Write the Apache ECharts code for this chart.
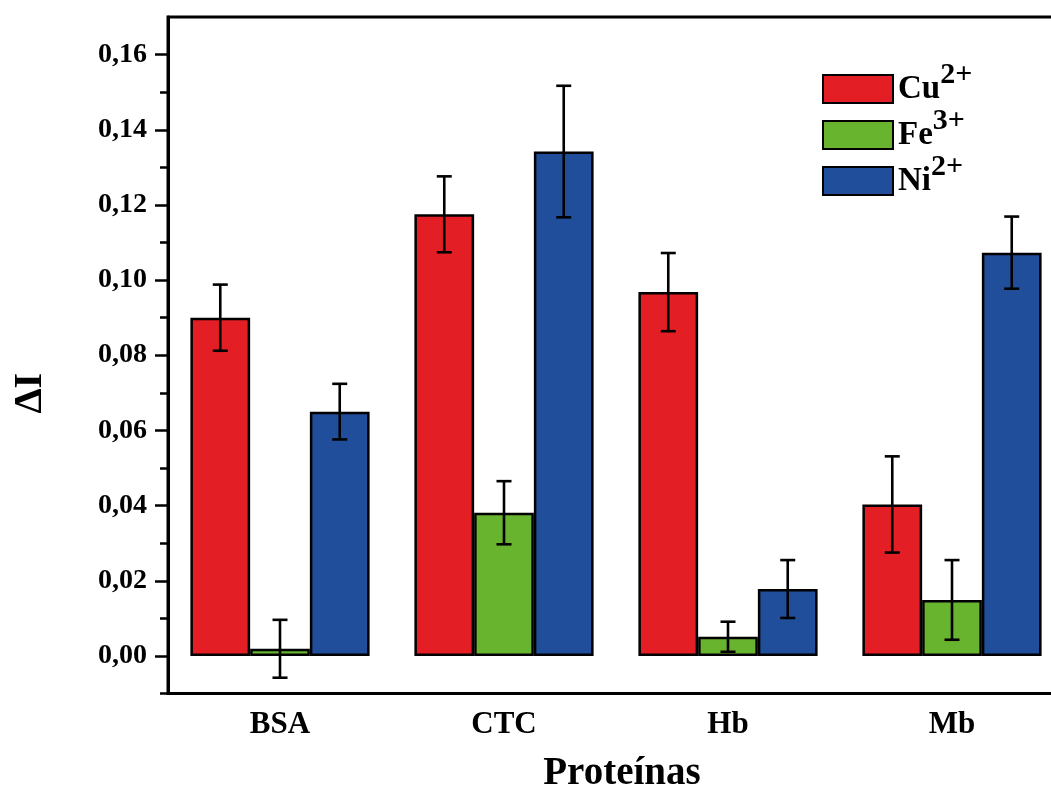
<!DOCTYPE html>
<html>
<head>
<meta charset="utf-8">
<script src="https://cdn.jsdelivr.net/npm/echarts@6/dist/echarts.min.js"></script>
<style>
  html, body { margin: 0; padding: 0; background: #fff; overflow: hidden; }
  #chart { width: 1051px; height: 787px; }
</style>
</head>
<body>
<div id="chart"></div>
<script>
// Proteins on the x axis, mean ΔI per metal ion with its standard deviation
const categories = ['BSA', 'CTC', 'Hb', 'Mb'];
const cuValues = [0.0900, 0.1175, 0.0968, 0.0403];
const cuErrors = [0.0088, 0.0101, 0.0104, 0.0128];
const feValues = [0.0019, 0.0381, 0.0051, 0.0149];
const feErrors = [0.0077, 0.0084, 0.0040, 0.0106];
const niValues = [0.0650, 0.1342, 0.0178, 0.1073];
const niErrors = [0.0074, 0.0175, 0.0077, 0.0096];
const majorTicks = [0, 0.02, 0.04, 0.06, 0.08, 0.10, 0.12, 0.14, 0.16];
const minorTicks = [-0.01, 0.01, 0.03, 0.05, 0.07, 0.09, 0.11, 0.13, 0.15];

const ions = [
  { name: 'Cu', charge: '2+', values: cuValues, errors: cuErrors, color: '#e31e24' },
  { name: 'Fe', charge: '3+', values: feValues, errors: feErrors, color: '#69b42e' },
  { name: 'Ni', charge: '2+', values: niValues, errors: niErrors, color: '#214e9b' }
];

const FONT = "'Liberation Serif', 'Times New Roman', serif";
const BAR_SHARE = 0.8; // fraction of a category taken by the bar group

const barSeries = ions.map(ion => ({
  name: ion.name + ion.charge,
  type: 'bar',
  data: ion.values,
  barGap: '0%',
  barCategoryGap: '20%',
  itemStyle: { color: ion.color, borderColor: '#000', borderWidth: 2.5 },
  z: 2
}));

// error bar rows: [category index, low, high, ion index]
const errorRows = [];
ions.forEach((ion, k) => {
  ion.values.forEach((v, i) => {
    errorRows.push([i, v - ion.errors[i], v + ion.errors[i], k]);
  });
});

const errorSeries = {
  type: 'custom',
  data: errorRows,
  z: 5,
  silent: true,
  renderItem: function (params, api) {
    const cat = api.value(0);
    const k = api.value(3);
    const band = api.size([1, 0])[0];
    const barW = band * BAR_SHARE / ions.length;
    const lowPt = api.coord([cat, api.value(1)]);
    const highPt = api.coord([cat, api.value(2)]);
    const x = lowPt[0] + (k - (ions.length - 1) / 2) * barW;
    const cap = 7.5;
    const style = { stroke: '#000', lineWidth: 2.6 };
    return {
      type: 'group',
      children: [
        { type: 'line', shape: { x1: x, y1: highPt[1], x2: x, y2: lowPt[1] }, style: style },
        { type: 'line', shape: { x1: x - cap, y1: highPt[1], x2: x + cap, y2: highPt[1] }, style: style },
        { type: 'line', shape: { x1: x - cap, y1: lowPt[1], x2: x + cap, y2: lowPt[1] }, style: style }
      ]
    };
  }
};

// ion symbol with its charge raised as a superscript
const legendRich = {
  b: { fontFamily: FONT, fontWeight: 'bold', fontSize: 33, color: '#000', lineHeight: 66, verticalAlign: 'middle' },
  s: { fontFamily: FONT, fontWeight: 'bold', fontSize: 30, color: '#000', verticalAlign: 'top', padding: [4, 0, 0, 0] }
};

const legendTops = [60, 106, 152];
const legends = ions.map((ion, k) => ({
  data: [ion.name + ion.charge],
  left: 822,
  top: legendTops[k],
  padding: 0,
  itemWidth: 70,
  itemHeight: 28,
  icon: 'rect',
  selectedMode: false,
  formatter: () => '{b|' + ion.name + '}{s|' + ion.charge + '}',
  textStyle: { rich: legendRich }
}));

const option = {
  backgroundColor: '#fff',
  animation: false,
  legend: legends,
  grid: {
    left: 168, top: 17, width: 896, bottom: 93.5,
    outerBoundsMode: 'none',
    containLabel: false,
    show: true, borderColor: '#000', borderWidth: 3, backgroundColor: 'transparent'
  },
  xAxis: [
    {
      type: 'category',
      data: categories,
      position: 'bottom',
      axisLine: { onZero: false, lineStyle: { color: '#000', width: 3 } },
      axisTick: { alignWithLabel: true, length: 13, lineStyle: { color: '#000', width: 2.5 } },
      axisLabel: { color: '#000', fontFamily: FONT, fontWeight: 'bold', fontSize: 31, margin: 16 },
      name: 'Proteínas',
      nameLocation: 'middle',
      nameGap: 61,
      nameTextStyle: { color: '#000', fontFamily: FONT, fontWeight: 'bold', fontSize: 39, padding: [0, 0, 0, 12] }
    },
    {
      type: 'category',
      data: categories,
      position: 'bottom',
      axisLine: { show: false, onZero: false },
      axisTick: { alignWithLabel: false, length: 7, lineStyle: { color: '#000', width: 2.5 } },
      axisLabel: { show: false }
    }
  ],
  yAxis: [
    {
      type: 'value',
      min: -0.01,
      max: 0.17,
      position: 'left',
      splitLine: { show: false },
      axisLine: { show: true, onZero: false, lineStyle: { color: '#000', width: 3 } },
      axisTick: { show: true, customValues: majorTicks, length: 13, lineStyle: { color: '#000', width: 2.5 } },
      axisLabel: {
        customValues: majorTicks,
        color: '#000', fontFamily: FONT, fontWeight: 'bold', fontSize: 28, margin: 21,
        formatter: v => v.toFixed(2).replace('.', ',')
      },
      name: 'ΔI',
      nameLocation: 'middle',
      nameRotate: 90,
      nameGap: 117,
      nameTextStyle: { color: '#000', fontFamily: FONT, fontWeight: 'bold', fontSize: 40, padding: [0, 76, 0, 0] }
    },
    {
      type: 'value',
      min: -0.01,
      max: 0.17,
      position: 'left',
      splitLine: { show: false },
      axisLine: { show: false, onZero: false },
      axisTick: { show: true, customValues: minorTicks, length: 8, lineStyle: { color: '#000', width: 2.5 } },
      axisLabel: { show: false }
    }
  ],
  series: barSeries.concat([errorSeries])
};

const chart = echarts.init(document.getElementById('chart'), null, { renderer: 'canvas' });
chart.setOption(option);
</script>
</body>
</html>
